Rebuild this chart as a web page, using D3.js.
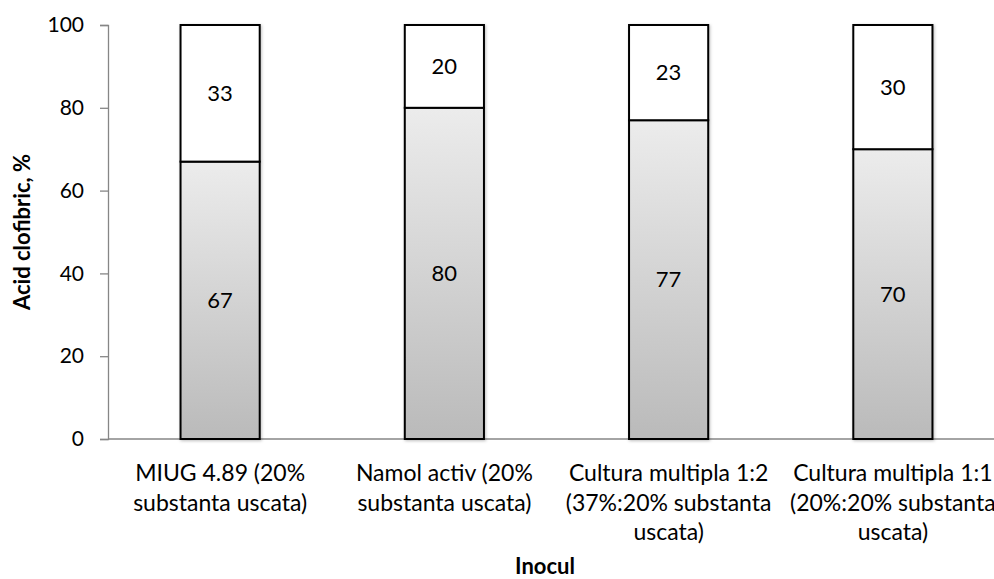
<!DOCTYPE html>
<html>
<head>
<meta charset="utf-8">
<script src="https://cdn.jsdelivr.net/npm/d3@7"></script>
<style>
  html, body { margin: 0; padding: 0; background: #fff; }
  svg { display: block; font-family: Lato, "Open Sans", sans-serif; }
</style>
</head>
<body>
<svg id="chart" width="994" height="579"></svg>
<script>
// Inoculum categories (multi-line labels)
const categories = [
  ["MIUG 4.89 (20%", "substanta uscata)"],
  ["Namol activ (20%", "substanta uscata)"],
  ["Cultura multipla 1:2", "(37%:20% substanta", "uscata)"],
  ["Cultura multipla 1:1", "(20%:20% substanta", "uscata)"]
];
// Lower (shaded) and upper (white) stacked shares, %
const lowerValues = [67, 80, 77, 70];
const upperValues = [33, 20, 23, 30];
const yTicks = [0, 20, 40, 60, 80, 100];

const svg = d3.select("#chart");
const margin = { left: 108, top: 25, right: -11, bottom: 140 };
const W = 994, H = 579;
const plotW = W - margin.left - margin.right;
const baseY = 439;

const x = d3.scaleBand()
  .domain(d3.range(categories.length))
  .range([margin.left, margin.left + plotW])
  .paddingInner(0.647)
  .paddingOuter(0.3235);

const y = d3.scaleLinear().domain([0, 100]).range([baseY, margin.top]);

const defs = svg.append("defs");
const grad = defs.append("linearGradient")
  .attr("id", "lowerFill").attr("x1", 0).attr("y1", 0).attr("x2", 0).attr("y2", 1);
grad.append("stop").attr("offset", "0%").attr("stop-color", "#ececec");
grad.append("stop").attr("offset", "100%").attr("stop-color", "#bababa");

const shadow = defs.append("filter").attr("id", "shadow")
  .attr("x", "-20%").attr("y", "-20%").attr("width", "140%").attr("height", "140%");
shadow.append("feDropShadow").attr("dx", 1).attr("dy", 1)
  .attr("stdDeviation", 1.5).attr("flood-color", "#000").attr("flood-opacity", 0.25);

// Axes
const axisColor = "#868686";
const yAxis = svg.append("g")
  .attr("transform", `translate(${margin.left},0)`)
  .call(d3.axisLeft(y).tickValues(yTicks).tickSize(8).tickPadding(16));
yAxis.select(".domain").attr("stroke", axisColor).attr("stroke-width", 1.3);
yAxis.selectAll(".tick line").attr("stroke", axisColor).attr("stroke-width", 1.3);
yAxis.selectAll(".tick text")
  .attr("fill", "#000").style("font-size", "21px")
  .style("font-family", "Lato, 'Open Sans', sans-serif");

svg.append("line")
  .attr("x1", margin.left).attr("x2", W)
  .attr("y1", baseY).attr("y2", baseY)
  .attr("stroke", axisColor).attr("stroke-width", 1.3);

// Bars
const bars = svg.append("g");
const groups = bars.selectAll("g.bar").data(d3.range(categories.length)).join("g")
  .attr("class", "bar").attr("filter", "url(#shadow)");

groups.append("rect")
  .attr("x", i => x(i)).attr("width", x.bandwidth())
  .attr("y", i => y(lowerValues[i]))
  .attr("height", i => y(0) - y(lowerValues[i]))
  .attr("fill", "url(#lowerFill)")
  .attr("stroke", "#000").attr("stroke-width", 2);

groups.append("rect")
  .attr("x", i => x(i)).attr("width", x.bandwidth())
  .attr("y", i => y(lowerValues[i] + upperValues[i]))
  .attr("height", i => y(lowerValues[i]) - y(lowerValues[i] + upperValues[i]))
  .attr("fill", "#fff")
  .attr("stroke", "#000").attr("stroke-width", 2);

// Value labels
const labels = svg.append("g").style("font-size", "22px").attr("text-anchor", "middle");
labels.selectAll("text.lo").data(d3.range(categories.length)).join("text")
  .attr("x", i => x(i) + x.bandwidth() / 2)
  .attr("y", i => y(lowerValues[i] / 2))
  .attr("dy", "0.35em")
  .text(i => lowerValues[i]);
labels.selectAll("text.up").data(d3.range(categories.length)).join("text")
  .attr("x", i => x(i) + x.bandwidth() / 2)
  .attr("y", i => y(lowerValues[i] + upperValues[i] / 2))
  .attr("dy", "0.35em")
  .text(i => upperValues[i]);

// Category labels
const cat = svg.append("g").style("font-size", "23px").attr("text-anchor", "middle");
categories.forEach((lines, i) => {
  const t = cat.append("text")
    .attr("x", x(i) + x.bandwidth() / 2)
    .attr("y", 481);
  lines.forEach((ln, k) => {
    t.append("tspan").attr("x", x(i) + x.bandwidth() / 2)
      .attr("dy", k === 0 ? 0 : 29.5).text(ln);
  });
});

// Axis titles
svg.append("text")
  .attr("x", 545).attr("y", 574)
  .attr("text-anchor", "middle")
  .style("font-size", "22px").style("font-weight", "bold")
  .text("Inocul");

svg.append("text")
  .attr("transform", "translate(30,232) rotate(-90)")
  .attr("text-anchor", "middle")
  .style("font-size", "22px").style("font-weight", "bold")
  .text("Acid clofibric, %");
</script>
</body>
</html>
